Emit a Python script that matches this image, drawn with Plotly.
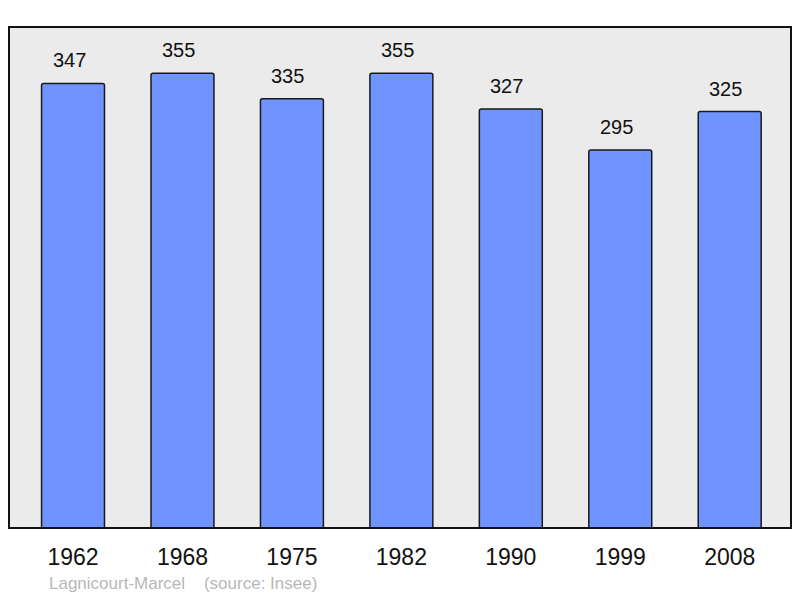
import plotly.graph_objects as go

years = ["1962", "1968", "1975", "1982", "1990", "1999", "2008"]
population = [347, 355, 335, 355, 327, 295, 325]

bar_color = "#7094ff"
edge_color = "#1a1a1a"

fig = go.Figure()
fig.add_trace(go.Bar(
    x=years,
    y=population,
    width=0.575,
    marker=dict(color=bar_color, line=dict(color=edge_color, width=1.5), cornerradius=2),
    hoverinfo="x+y",
))

# value labels above each bar (x by category index), sitting a bit left of centre like the original
for i, val in enumerate(population):
    fig.add_annotation(x=i, y=val, text=str(val), showarrow=False,
                       xshift=-4, yshift=23, font=dict(size=20, color="#111111"))

# frame round the plot area
fig.add_shape(type="rect", xref="paper", yref="paper", x0=0, x1=1, y0=0, y1=1,
              line=dict(color="#111111", width=2), layer="above")

fig.add_annotation(xref="paper", yref="paper", x=0.0485, y=-0.11, xanchor="left", yanchor="middle",
                   text="Lagnicourt-Marcel&nbsp;&nbsp;&nbsp;&nbsp;(source: Insee)", showarrow=False,
                   font=dict(size=17, color="#b8b8b8"))

fig.update_layout(
    width=800, height=598,
    margin=dict(l=9, r=9, t=27, b=70),
    plot_bgcolor="#ebebeb",
    paper_bgcolor="white",
    font=dict(family="Liberation Sans, Arial, sans-serif"),
    showlegend=False,
    xaxis=dict(type="category", range=[-0.585, 6.56], showgrid=False, zeroline=False,
               ticks="outside", ticklen=8, tickcolor="rgba(0,0,0,0)",
               tickfont=dict(size=23, color="#111111")),
    yaxis=dict(range=[0, 391], showgrid=False, zeroline=False, showticklabels=False),
)

fig.write_html("out.html", config={"displayModeBar": False},
               post_script="document.body.style.margin='0';")
